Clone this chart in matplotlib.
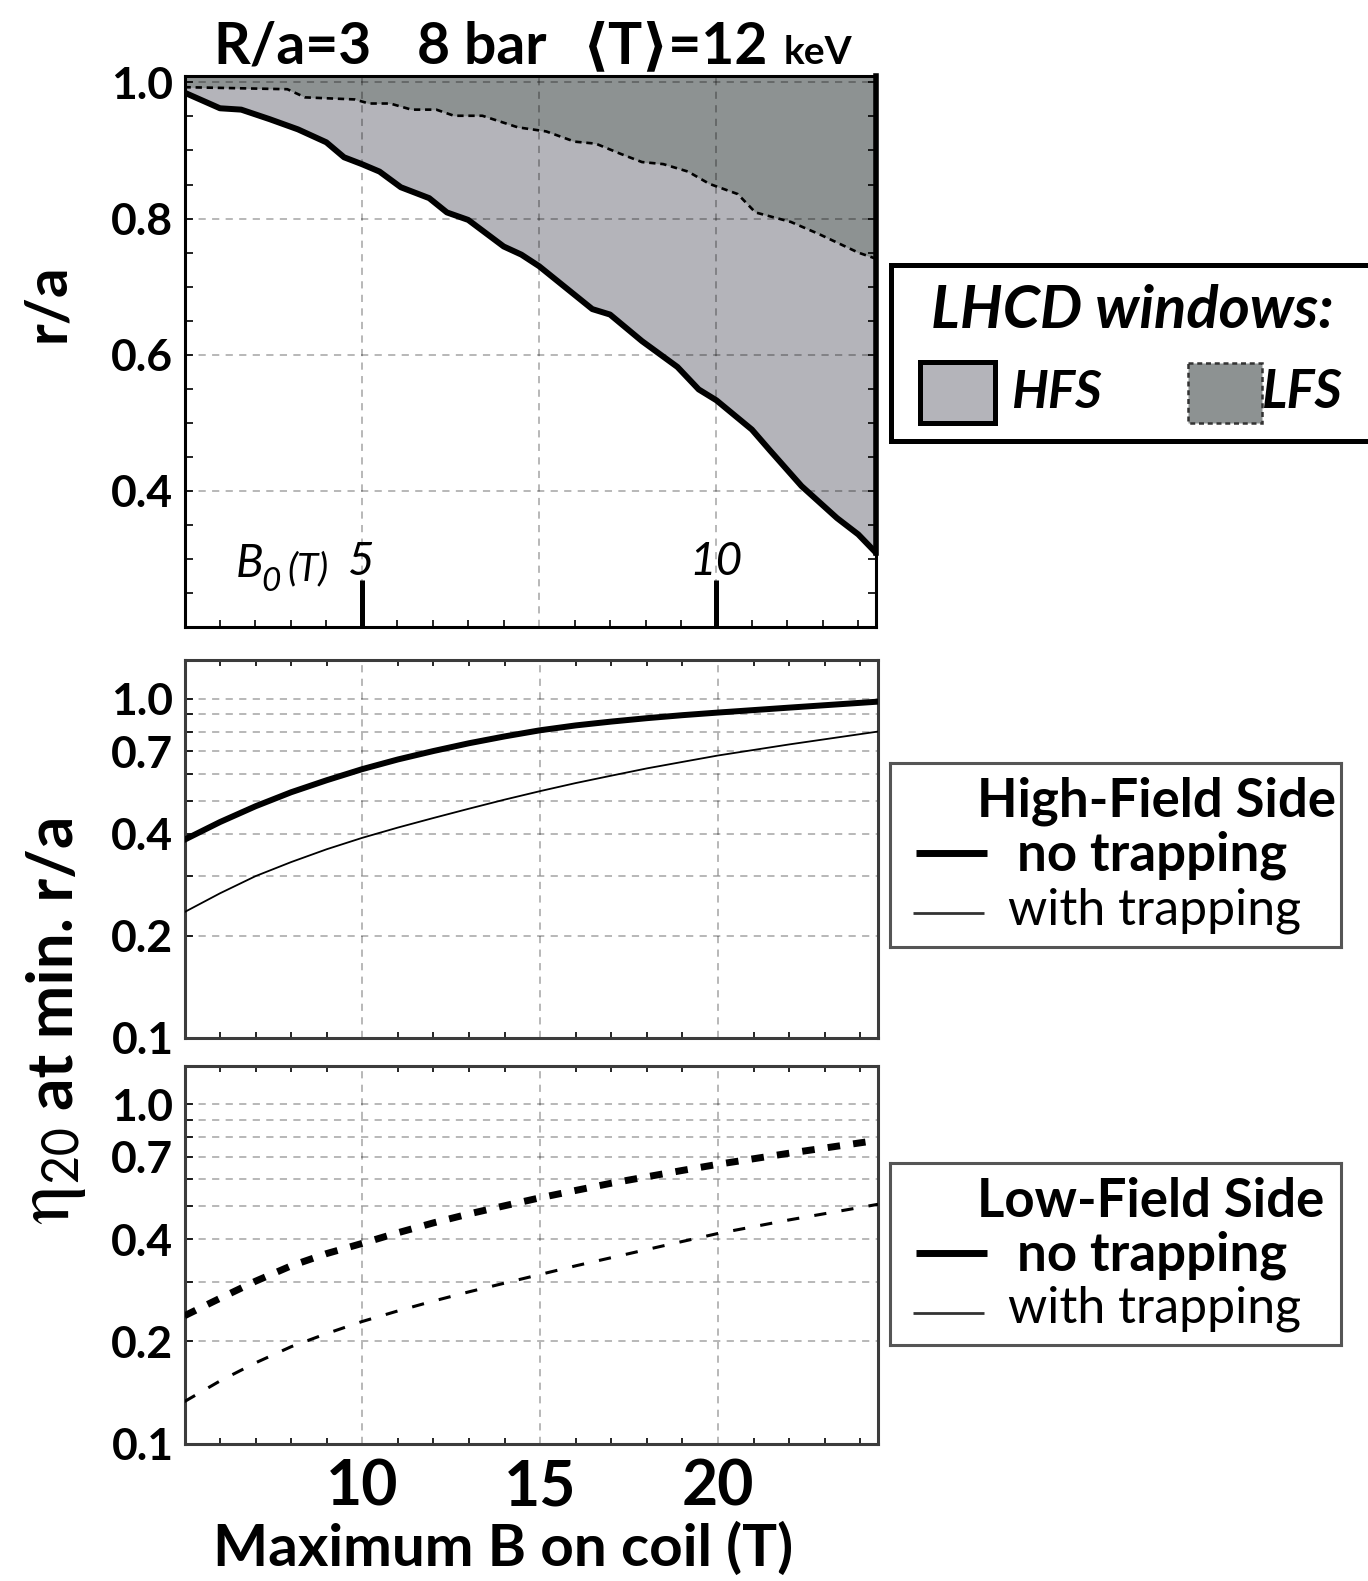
import matplotlib.pyplot as plt
from matplotlib.patches import Rectangle
from matplotlib.ticker import NullFormatter

plt.rcParams['font.family'] = ['Lato', 'DejaVu Sans']
plt.rcParams['mathtext.fontset'] = 'stix'

# LHCD accessibility windows: minimum r/a vs maximum field on coil
hfs_coil = [5.0, 6.0, 6.6, 7.4, 8.2, 9.0, 9.5, 10.0, 10.5, 11.1, 11.9, 12.4, 13.0,
            14.0, 14.5, 15.0, 16.0, 16.5, 17.0, 17.9, 18.9, 19.5, 20.0, 21.0, 21.5,
            22.4, 23.4, 24.0, 24.5]
hfs_ra = [0.985, 0.962, 0.960, 0.946, 0.931, 0.912, 0.890, 0.880, 0.869, 0.846, 0.830,
          0.809, 0.798, 0.759, 0.747, 0.730, 0.688, 0.667, 0.659, 0.620, 0.582, 0.549,
          0.533, 0.490, 0.460, 0.407, 0.360, 0.336, 0.309]
lfs_coil = [5.0, 7.9, 8.4, 9.8, 10.2, 10.8, 11.4, 12.1, 12.6, 13.4, 14.4, 15.2, 16.0,
            16.6, 17.3, 17.9, 18.5, 19.2, 19.8, 20.6, 21.1, 22.1, 22.9, 24.0, 24.5]
lfs_ra = [0.993, 0.990, 0.978, 0.975, 0.969, 0.969, 0.960, 0.960, 0.951, 0.951, 0.934,
          0.928, 0.913, 0.910, 0.895, 0.883, 0.880, 0.869, 0.851, 0.836, 0.809, 0.795,
          0.777, 0.750, 0.741]

# current drive efficiency eta_20 at the minimum r/a
eta_coil = [5, 6, 7, 8, 9, 10, 11, 12, 13, 14, 15, 16, 17, 18, 19, 20, 22, 24.5]
hfs_eta_free = [0.384, 0.433, 0.482, 0.530, 0.575, 0.620, 0.662, 0.701, 0.739, 0.774,
                0.807, 0.834, 0.856, 0.876, 0.894, 0.910, 0.941, 0.980]
hfs_eta_trap = [0.235, 0.267, 0.300, 0.330, 0.360, 0.389, 0.417, 0.445, 0.474, 0.504,
                0.534, 0.564, 0.593, 0.623, 0.651, 0.680, 0.733, 0.800]
lfs_eta_free = [0.238, 0.268, 0.301, 0.334, 0.363, 0.389, 0.418, 0.447, 0.475, 0.502,
                0.530, 0.557, 0.585, 0.611, 0.638, 0.665, 0.717, 0.783]
lfs_eta_trap = [0.133, 0.153, 0.173, 0.193, 0.211, 0.229, 0.246, 0.263, 0.280, 0.297,
                0.315, 0.334, 0.353, 0.373, 0.394, 0.416, 0.456, 0.507]

b0_per_coil = 0.5
b0_ticks = [5, 10]
ra_ticks = [0.4, 0.6, 0.8, 1.0]
ra_labels = ['0.4', '0.6', '0.8', '1.0']
eta_ticks = [0.1, 0.2, 0.4, 0.7, 1.0]
eta_labels = ['0.1', '0.2', '0.4', '0.7', '1.0']
eta_grid = [0.3, 0.5, 0.6, 0.8, 0.9]
coil_ticks = [10, 15, 20]
coil_minor = list(range(5, 25))
ra_minor = [0.25, 0.3, 0.35, 0.45, 0.5, 0.55, 0.65, 0.7, 0.75, 0.85, 0.9, 0.95]

HFS_GRAY = '#b4b4ba'
LFS_GRAY = '#8d9292'

W, H = 1368, 1581
fig = plt.figure(figsize=(W / 100, H / 100), dpi=100)


def box(l, t, r, b):
    return [l / W, 1 - b / H, (r - l) / W, (b - t) / H]


def px_text(x, y, s, **kw):
    fig.text(x / W, 1 - y / H, s, **kw)


grid_kw = dict(color='k', alpha=0.3, lw=1.3, ls=(0, (4, 3.5)))

# ---- top panel: accessibility windows
ax1 = fig.add_axes(box(184.5, 75.6, 876, 627))
ax1.fill_between(hfs_coil, hfs_ra, 1.01, color=HFS_GRAY, lw=0, zorder=1)
ax1.fill_between(lfs_coil, lfs_ra, 1.01, color=LFS_GRAY, lw=0, zorder=1.5)
ax1.plot(hfs_coil, hfs_ra, color='k', lw=4.3, solid_joinstyle='round', zorder=4)
ax1.plot([hfs_coil[-1], hfs_coil[-1]], [hfs_ra[-1], 1.01], color='k', lw=4,
         clip_on=False, zorder=4)
ax1.plot(lfs_coil, lfs_ra, color='k', lw=1.9, ls=(0, (2.4, 1.8)), zorder=4)
ax1.set_xlim(5, 24.5)
ax1.set_ylim(0.2, 1.01)
ax1.set_axisbelow(False)
ax1.set_xticks(coil_ticks)
ax1.set_xticks(coil_minor, minor=True)
ax1.set_yticks(ra_ticks, ra_labels)
ax1.set_yticks(ra_minor, minor=True)
ax1.grid(True, which='major', **grid_kw)
ax1.tick_params(axis='x', which='major', length=0, labelbottom=False)
ax1.tick_params(axis='x', which='minor', direction='in', length=5, width=1.2)
ax1.tick_params(axis='y', which='both', direction='in', length=6, width=1.2,
                left=True, right=True, labelsize=32, pad=8)
for lbl in ax1.get_yticklabels():
    lbl.set_fontweight('bold')
for sp in ax1.spines.values():
    sp.set_linewidth(2.2)

# B0 scale along the bottom of the top panel
sec = ax1.secondary_xaxis('bottom', functions=(lambda b: b * b0_per_coil,
                                                lambda b0: b0 / b0_per_coil))
sec.set_xticks(b0_ticks, [str(v) for v in b0_ticks])
sec.tick_params(direction='in', length=34, width=3.6, pad=-62, labelsize=33)
for lbl in sec.get_xticklabels():
    lbl.set_fontstyle('italic')
sec.spines['bottom'].set_visible(False)
px_text(236, 577, 'B', fontsize=33, style='italic', va='baseline')
px_text(261, 591, '0', fontsize=24, style='italic', va='baseline')
px_text(287, 580, '(T)', fontsize=28, style='italic', va='baseline')

# ---- middle and bottom panels: efficiency
ax2 = fig.add_axes(box(184.5, 660, 878, 1038))
ax3 = fig.add_axes(box(184.5, 1065.5, 878, 1443.6))

ax2.plot(eta_coil, hfs_eta_free, color='k', lw=4.3, zorder=4)
ax2.plot(eta_coil, hfs_eta_trap, color='k', lw=1.3, zorder=4)
ax3.plot(eta_coil, lfs_eta_free, color='k', lw=5, ls=(0, (1.8, 1.9)), zorder=4)
ax3.plot(eta_coil, lfs_eta_trap, color='k', lw=2.2, ls=(0, (4, 5)), zorder=4)

for ax in (ax2, ax3):
    ax.set_yscale('log')
    ax.set_xlim(5, 24.5)
    ax.set_ylim(0.1, 1.3)
    ax.set_yticks(eta_ticks, eta_labels)
    ax.set_yticks(eta_grid, minor=True)
    ax.yaxis.set_minor_formatter(NullFormatter())
    ax.set_xticks(coil_ticks)
    ax.set_xticks(coil_minor, minor=True)
    ax.grid(True, axis='x', which='major', **grid_kw)
    ax.grid(True, axis='y', which='both', **grid_kw)
    ax.tick_params(axis='x', which='both', direction='in', top=True, length=4, width=1.2)
    ax.tick_params(axis='x', which='major', length=0)
    ax.tick_params(axis='y', which='both', direction='in', length=6, width=1.2,
                   labelsize=32, pad=8)
    for lbl in ax.get_yticklabels():
        lbl.set_fontweight('bold')
    for sp in ax.spines.values():
        sp.set_linewidth(2.2)
        sp.set_color('#3c3c3c')

ax2.tick_params(axis='x', labelbottom=False)
ax3.tick_params(axis='x', which='major', labelsize=45, pad=11)
for lbl in ax3.get_xticklabels():
    lbl.set_fontweight('bold')

# ---- titles and axis labels
px_text(213, 63.5, 'R/a=3', fontsize=41, weight='bold', va='baseline')
px_text(417, 63.5, '8 bar', fontsize=41, weight='bold', va='baseline')
px_text(582, 63.5, '\u27e8T\u27e9=12', fontsize=41, weight='bold', va='baseline')
px_text(784, 63.5, 'keV', fontsize=28, weight='bold', va='baseline')
px_text(48, 303, 'r/a', fontsize=42, weight='bold', rotation=90, ha='center', va='center')
px_text(55, 963, 'at min. r/a', fontsize=46, weight='bold',
        rotation=90, ha='center', va='center')
px_text(52, 1176, r'$\mathrm{\eta}_{\mathsf{20}}$', fontsize=57,
        rotation=90, ha='center', va='center')
px_text(503, 1566, 'Maximum B on coil (T)', fontsize=42, weight='bold',
        ha='center', va='baseline')


# ---- legend boxes (pixel coordinates inside each box)
def legend_box(l, t, r, b, edge, lw):
    lax = fig.add_axes(box(l, t, r, b))
    lax.set_xlim(l, r)
    lax.set_ylim(b, t)
    lax.set_xticks([])
    lax.set_yticks([])
    for sp in lax.spines.values():
        sp.set_color(edge)
        sp.set_linewidth(lw)
    return lax


lh = legend_box(891, 265, 1390, 440.5, 'k', 3.6)
lh.text(931, 328, 'LHCD windows:', fontsize=43, weight='bold', style='italic', va='baseline')
lh.add_patch(Rectangle((920, 362), 75, 61, facecolor=HFS_GRAY, edgecolor='k', lw=3.6))
lh.add_patch(Rectangle((1188, 363), 74, 60, facecolor=LFS_GRAY, edgecolor='#333333',
                       lw=1.8, ls=(0, (2, 1.5))))
lh.text(1011, 408, 'HFS', fontsize=37, weight='bold', style='italic', va='baseline')
lh.text(1262, 408, 'LFS', fontsize=38, weight='bold', style='italic', va='baseline')

for (t, b, head, right, y_free, y_trap, b_head, b_free, b_trap) in [
        (763, 947, 'High-Field Side', 1336, 853, 913, 816, 870, 924),
        (1163, 1345, 'Low-Field Side', 1324, 1253, 1313, 1217, 1271, 1323)]:
    lg = legend_box(890, t, 1341, b, '#555555', 2.2)
    lg.text(right, b_head, head, fontsize=38, weight='bold', ha='right', va='baseline')
    lg.text(1152, b_free, 'no trapping', fontsize=38, weight='bold', ha='center', va='baseline')
    lg.text(1155, b_trap, 'with trapping', fontsize=36, ha='center', va='baseline')
    lg.plot([916, 987], [y_free, y_free], color='k', lw=5, solid_capstyle='butt')
    lg.plot([913, 984], [y_trap, y_trap], color='#333333', lw=2, solid_capstyle='butt')

fig.savefig('out.png', dpi=100)
